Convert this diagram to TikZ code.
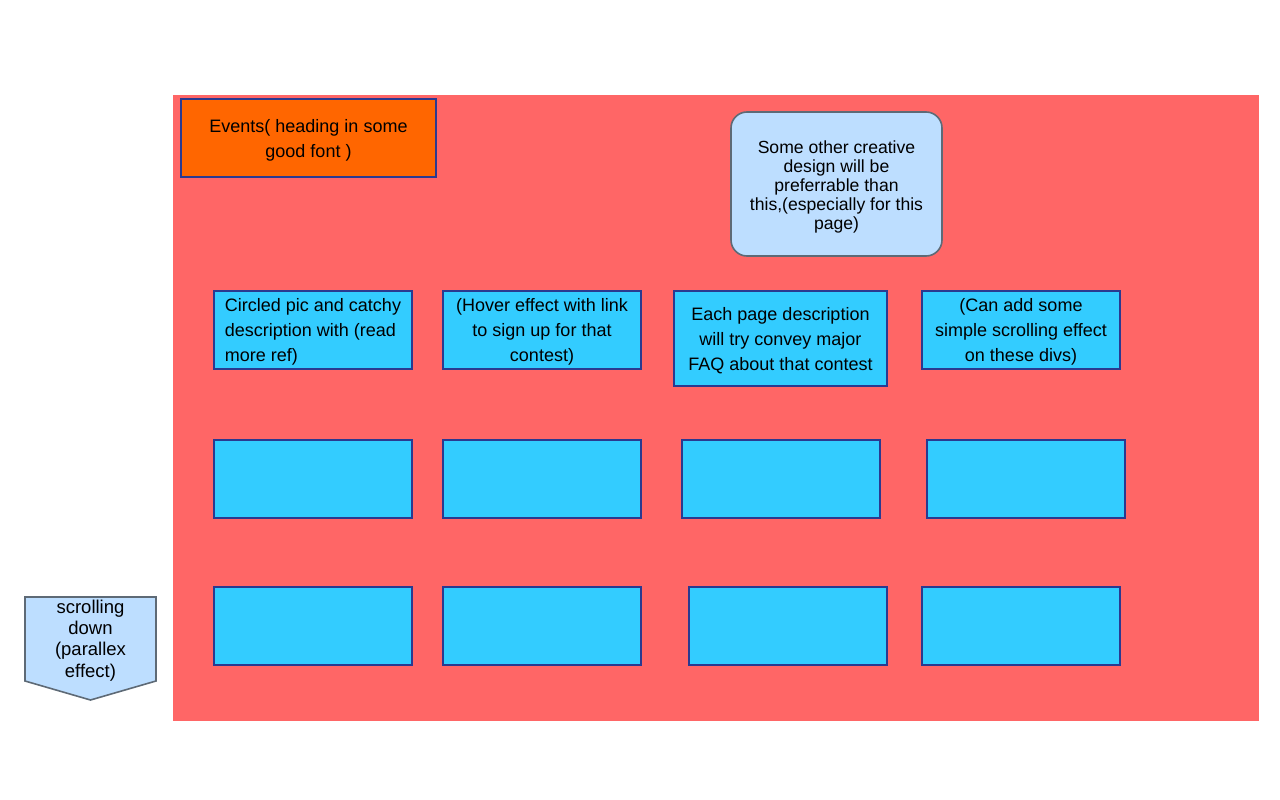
\documentclass[tikz,border=0pt]{standalone}
\usepackage{fontspec}
\setmainfont{Liberation Sans}
\definecolor{pagered}{HTML}{FF6666}
\definecolor{headorange}{HTML}{FF6600}
\definecolor{cardcyan}{HTML}{33CCFF}
\definecolor{noteblue}{HTML}{BDDEFF}
\definecolor{edgeblue}{HTML}{2A3990}
\definecolor{edgegray}{HTML}{5E6A76}
\tikzset{
  card/.style={draw=edgeblue, line width=1.6pt, fill=cardcyan, inner sep=0pt,
    minimum width=198pt, minimum height=78pt},
  heading/.style={card, fill=headorange, minimum width=255pt},
  note/.style={draw=edgegray, line width=1.6pt, fill=noteblue, rounded corners=16pt,
    minimum width=211pt, minimum height=144pt, inner sep=0pt},
  cardtext/.style={align=center, inner sep=0pt, font=\fontsize{18}{25}\selectfont},
  notetext/.style={align=center, inner sep=0pt, font=\fontsize{17.6}{19.1}\selectfont},
  arrowtext/.style={align=center, inner sep=0pt, font=\fontsize{18.5}{21.3}\selectfont},
}
\begin{document}
\begin{tikzpicture}[x=1pt,y=-1pt]
\useasboundingbox (0,0) rectangle (1280,800);
% page area
\fill[pagered] (173,95) rectangle (1259,721);

% heading and note
\node[heading] (head) at (308.5,138) {};
\node[cardtext] (headtext) at ([yshift=-2.5pt]head.center) {Events( heading in some\\good font )};
\node[note] (note) at (836.5,184) {};
\node[notetext] (notetext) at ([yshift=-3pt]note.center) {Some other creative\\design will be\\ preferrable than\\this,(especially for this\\page)};

% first row of cards, with text
\node[card] (c11) at (313,330) {};
\node[cardtext, align=left] (c11text) at ([yshift=-2pt]c11.center) {Circled pic and catchy\\description with (read\\more ref)};
\node[card] (c12) at (542,330) {};
\node[cardtext] (c12text) at ([yshift=-2pt]c12.center) {(Hover effect with link\\to sign up for that\\contest)};
\node[card, minimum width=213pt, minimum height=95pt] (c13) at (780.5,338.5) {};
\node[cardtext] (c13text) at ([yshift=-2pt]c13.center) {Each page description\\will try convey major\\FAQ about that contest};
\node[card] (c14) at (1021,330) {};
\node[cardtext] (c14text) at ([yshift=-2pt]c14.center) {(Can add some\\simple scrolling effect\\on these divs)};

% second row
\node[card] (c21) at (313,479) {};
\node[card] (c22) at (542,479) {};
\node[card] (c23) at (781,479) {};
\node[card] (c24) at (1026,479) {};

% third row
\node[card] (c31) at (313,626) {};
\node[card] (c32) at (542,626) {};
\node[card] (c33) at (788,626) {};
\node[card] (c34) at (1021,626) {};

% scroll hint
\filldraw[fill=noteblue, draw=edgegray, line width=1.6pt, line join=miter]
  (25,597) -- (156,597) -- (156,681) -- (90.5,700) -- (25,681) -- cycle;
\node[arrowtext] (scroll) at (90.5,640.5) {scrolling\\down\\(parallex\\ effect)};
\end{tikzpicture}
\end{document}
